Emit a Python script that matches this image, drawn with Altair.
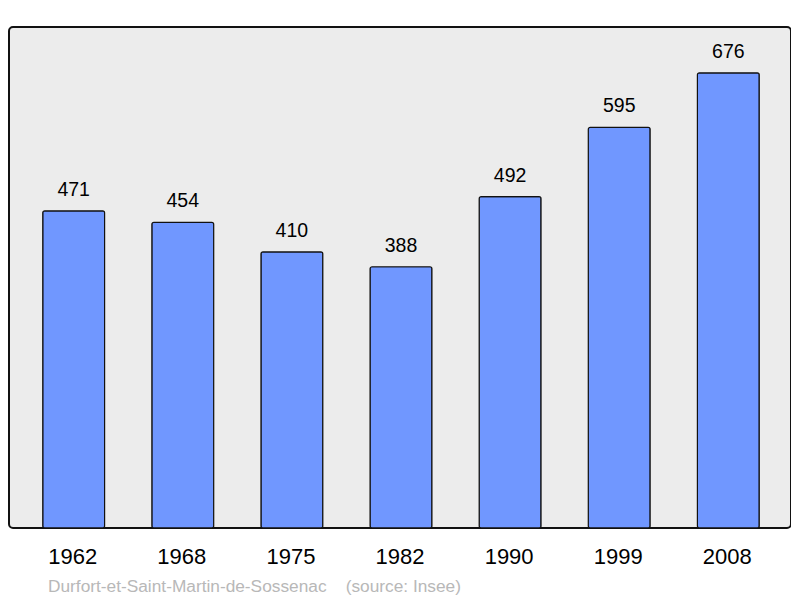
import altair as alt
import pandas as pd

years = ["1962", "1968", "1975", "1982", "1990", "1999", "2008"]
population = [471, 454, 410, 388, 492, 595, 676]
footer = "Durfort-et-Saint-Martin-de-Sossenac\u00a0\u00a0\u00a0\u00a0(source: Insee)"

df = pd.DataFrame({"year": years, "pop": population})

FONT = "Liberation Sans"

x = alt.X("year:N", sort=years, title=None,
          scale=alt.Scale(paddingInner=0.433, paddingOuter=0.3),
          axis=alt.Axis(labelAngle=0, labelFontSize=22, labelColor="black",
                        labelFont=FONT, domain=False, ticks=False,
                        labelPadding=35, labelBaseline="alphabetic"))
y = alt.Y("pop:Q", title=None, scale=alt.Scale(domain=[0, 744], nice=False),
          axis=None)

bars = alt.Chart(df).mark_bar(color="#7097ff", stroke="#111111", strokeWidth=1.2,
                              cornerRadius=2, xOffset=1).encode(x=x, y=y)
labels = alt.Chart(df).mark_text(fontSize=19.5, font=FONT, color="black",
                                 baseline="alphabetic", dy=-15, dx=1).encode(
    x=x, y=y, text="pop:Q")

chart = alt.layer(bars, labels).properties(
    width=782, height=501,
    autosize=alt.AutoSizeParams(type="none"),
    padding={"left": 1, "top": 19, "right": 0, "bottom": 70},
    title=alt.TitleParams(footer, orient="bottom", anchor="start", fontSize=17.3,
                          font=FONT, fontWeight="normal", color="#b8b8b8",
                          dx=39, offset=11),
).configure_view(fill="#ececec", stroke="#111111", strokeWidth=2, cornerRadius=4)

chart.save("out.html", embed_options={"renderer": "svg", "actions": False})
